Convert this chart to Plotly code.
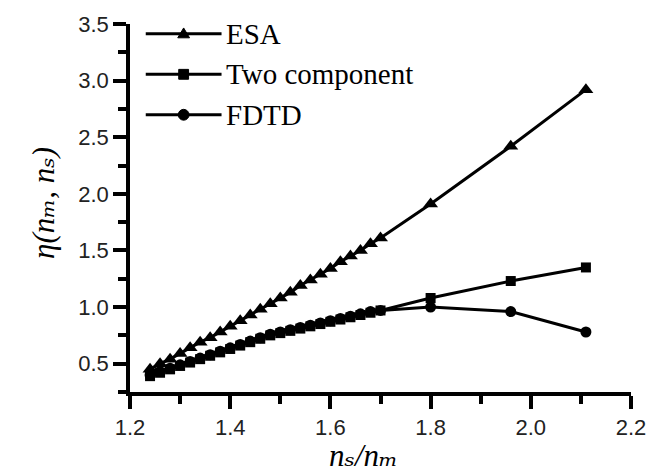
import plotly.graph_objects as go

# Data
x_dense = [1.24, 1.26, 1.28, 1.30, 1.32, 1.34, 1.36, 1.38, 1.40, 1.42, 1.44, 1.46,
           1.48, 1.50, 1.52, 1.54, 1.56, 1.58, 1.60, 1.62, 1.64, 1.66, 1.68, 1.70]
x_vals = x_dense + [1.80, 1.96, 2.11]

esa = [0.45, 0.50, 0.54, 0.59, 0.64, 0.69, 0.73, 0.78, 0.83, 0.88, 0.93, 0.98,
       1.03, 1.08, 1.13, 1.19, 1.24, 1.29, 1.34, 1.40, 1.45, 1.50, 1.56, 1.61,
       1.91, 2.42, 2.92]
two_comp = [0.39, 0.42, 0.45, 0.48, 0.51, 0.54, 0.57, 0.60, 0.63, 0.66, 0.69, 0.72,
            0.75, 0.77, 0.79, 0.81, 0.83, 0.85, 0.87, 0.89, 0.91, 0.93, 0.95, 0.97,
            1.08, 1.23, 1.35]
fdtd = [0.40, 0.43, 0.46, 0.49, 0.52, 0.55, 0.58, 0.61, 0.64, 0.67, 0.70, 0.73,
        0.76, 0.78, 0.80, 0.82, 0.84, 0.86, 0.88, 0.90, 0.92, 0.94, 0.96, 0.97,
        1.00, 0.96, 0.78]

series_names = ["ESA", "Two component", "FDTD"]

W, H = 658, 476
L, R, T, B = 130, 19, 19, 84

fig = go.Figure()
styles = [
    (esa, "triangle-up", 13),
    (two_comp, "square", 10),
    (fdtd, "circle", 11),
]
for (ys, sym, sz), name in zip(styles, series_names):
    fig.add_trace(go.Scatter(
        x=x_vals, y=ys, mode="lines+markers", name=name, showlegend=False,
        line=dict(color="black", width=3),
        marker=dict(symbol=sym, size=sz, color="black"),
    ))

fig.update_xaxes(range=[1.2, 2.2], tickmode="linear", tick0=1.2, dtick=0.2, tickformat=".1f",
                 showgrid=False, zeroline=False, showline=True, linecolor="black", linewidth=3.5,
                 ticks="outside", ticklen=13, tickwidth=3.5, tickcolor="black",
                 tickfont=dict(family="Liberation Sans, Arial", size=22, color="#222"),
                 minor=dict(dtick=0.1, ticks="outside", ticklen=8, tickwidth=3.5, tickcolor="black"))
fig.update_yaxes(range=[0.25, 3.5], tickmode="linear", tick0=0.5, dtick=0.5, tickformat=".1f",
                 showgrid=False, zeroline=False, showline=True, linecolor="black", linewidth=3.5,
                 ticks="outside", ticklen=13, tickwidth=3.5, tickcolor="black",
                 tickfont=dict(family="Liberation Sans, Arial", size=22, color="#222"),
                 minor=dict(dtick=0.25, ticks="outside", ticklen=8, tickwidth=3.5, tickcolor="black"))

# Custom legend (line with marker in the middle, text to the right)
pw = W - L - R
ph = H - T - B
def px_to_paper_x(px):
    return (px - L) / pw
def px_to_paper_y(py):
    return 1 - (py - T) / ph

serif = "Liberation Serif, DejaVu Serif, Times New Roman"
leg_rows = [29, 70, 111]
x0, x1 = 146, 223
xm = (x0 + x1) / 2
for name, (ys, sym, sz), row in zip(series_names, styles, leg_rows):
    fig.add_shape(type="line", xref="paper", yref="paper",
                  x0=px_to_paper_x(x0), x1=px_to_paper_x(x1),
                  y0=px_to_paper_y(row), y1=px_to_paper_y(row),
                  line=dict(color="black", width=3))
    if sym == "triangle-up":
        path = (f"M {px_to_paper_x(xm-6)} {px_to_paper_y(row+4)} "
                f"L {px_to_paper_x(xm+6)} {px_to_paper_y(row+4)} "
                f"L {px_to_paper_x(xm)} {px_to_paper_y(row-6)} Z")
        fig.add_shape(type="path", xref="paper", yref="paper", path=path,
                      fillcolor="black", line=dict(color="black", width=1))
    elif sym == "square":
        fig.add_shape(type="rect", xref="paper", yref="paper",
                      x0=px_to_paper_x(xm-5), x1=px_to_paper_x(xm+5),
                      y0=px_to_paper_y(row-5), y1=px_to_paper_y(row+5),
                      fillcolor="black", line=dict(color="black", width=1))
    else:
        fig.add_shape(type="circle", xref="paper", yref="paper",
                      x0=px_to_paper_x(xm-5.5), x1=px_to_paper_x(xm+5.5),
                      y0=px_to_paper_y(row-5.5), y1=px_to_paper_y(row+5.5),
                      fillcolor="black", line=dict(color="black", width=1))
    fig.add_annotation(text=name, xref="paper", yref="paper",
                       x=px_to_paper_x(226), y=px_to_paper_y(row),
                       xanchor="left", yanchor="middle", showarrow=False,
                       font=dict(family=serif, size=29, color="black"))

# Axis titles (unicode subscripts, italic font style)
fig.add_annotation(text="η(nₘ, nₛ)",
                   xref="paper", yref="paper",
                   x=px_to_paper_x(42), y=px_to_paper_y(200),
                   xanchor="center", yanchor="middle", textangle=-90, showarrow=False,
                   font=dict(family=serif, size=31, color="black", style="italic"))
fig.add_annotation(text="nₛ/nₘ",
                   xref="paper", yref="paper",
                   x=px_to_paper_x(367), y=px_to_paper_y(456),
                   xanchor="center", yanchor="middle", showarrow=False,
                   font=dict(family=serif, size=31, color="black", style="italic"))

fig.update_layout(
    width=W, height=H,
    margin=dict(l=L, r=R, t=T, b=B, pad=0),
    plot_bgcolor="white", paper_bgcolor="white",
)
fig.write_html("out.html")
